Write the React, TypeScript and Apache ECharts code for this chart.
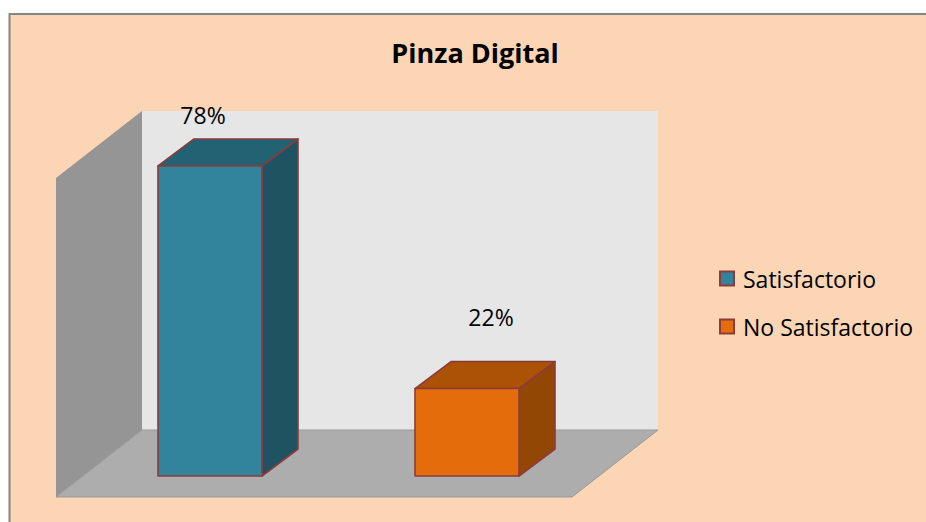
import React, { useEffect, useRef } from "react";
import * as echarts from "echarts";

const categories = ["Satisfactorio", "No Satisfactorio"];
const seriesNames = ["Satisfactorio", "No Satisfactorio"];
const values = [78, 22];
const labels = ["78%", "22%"];
const frontColors = ["#31849b", "#e46c0a"];
const topColors = ["#236273", "#ab5206"];
const sideColors = ["#1f5361", "#934704"];
const labelNudges = [[-7, -51], [24, -72]];

const FONT = "'Open Sans', Lato, sans-serif";
const EDGE = "#8c3b3c";
const DEPTH_X = 36;
const DEPTH_Y = -27;
const BAR_W = 104;

function barRenderer(index: number) {
  return (params: any, api: any) => {
    const [xc, yTop] = api.coord([api.value(0), api.value(1)]);
    const [, yBase] = api.coord([api.value(0), 0]);
    const l = xc - BAR_W / 2;
    const r = xc + BAR_W / 2;
    const shape = (points: number[][], fill: string) => ({
      type: "polygon",
      shape: { points },
      style: { fill, stroke: EDGE, lineWidth: 1.6, lineJoin: "round" },
    });
    return {
      type: "group",
      children: [
        shape(
          [[r, yTop], [r + DEPTH_X, yTop + DEPTH_Y], [r + DEPTH_X, yBase + DEPTH_Y], [r, yBase]],
          sideColors[index]
        ),
        shape(
          [[l, yTop], [l + DEPTH_X, yTop + DEPTH_Y], [r + DEPTH_X, yTop + DEPTH_Y], [r, yTop]],
          topColors[index]
        ),
        shape([[l, yTop], [r, yTop], [r, yBase], [l, yBase]], frontColors[index]),
        {
          type: "text",
          x: xc + labelNudges[index][0],
          y: yTop + labelNudges[index][1],
          style: {
            text: labels[index],
            fill: "#000",
            font: `23px ${FONT}`,
            align: "center",
            verticalAlign: "middle",
          },
        },
      ],
    };
  };
}

export default function App() {
  const ref = useRef<HTMLDivElement>(null);
  useEffect(() => {
    document.body.style.margin = "0";
    document.body.style.background = "#fff";
    const chart = echarts.init(ref.current!, undefined, { renderer: "svg" });
    chart.setOption({
      animation: false,
      backgroundColor: "#ffffff",
      title: {
        text: "Pinza Digital",
        left: 470,
        top: 34,
        textAlign: "center",
        textStyle: { fontFamily: FONT, fontSize: 27, fontWeight: "bold", color: "#000" },
      },
      legend: {
        data: seriesNames,
        orient: "vertical",
        left: 714,
        top: 262,
        icon: "rect",
        itemWidth: 14,
        itemHeight: 14,
        itemGap: 25,
        textStyle: { fontFamily: FONT, fontSize: 23, color: "#000", padding: [0, 0, 0, 4] },
        itemStyle: { borderColor: EDGE, borderWidth: 2 },
      },
      grid: { left: 81.5, width: 514, top: 158, height: 318 },
      xAxis: { type: "category", data: categories, show: false },
      yAxis: { type: "value", min: 0, max: 80, show: false },
      graphic: [
        {
          type: "rect",
          z: -10,
          shape: { x: 9.5, y: 14, width: 930, height: 520 },
          style: { fill: "#fcd5b5", stroke: "#868686", lineWidth: 2 },
        },
        {
          type: "polygon",
          z: -9,
          shape: { points: [[142, 111], [658, 111], [658, 430], [142, 430]] },
          style: { fill: "#e6e6e6" },
        },
        {
          type: "polygon",
          z: -9,
          shape: { points: [[56, 178], [142, 111], [142, 430], [56, 497]] },
          style: { fill: "#959595" },
        },
        {
          type: "polygon",
          z: -9,
          shape: { points: [[142, 430], [658, 430], [572, 497], [56, 497]] },
          style: { fill: "#adadad", stroke: "#9a9a9a", lineWidth: 1 },
        },
      ],
      series: seriesNames.map((name, i) => ({
        name,
        type: "custom",
        coordinateSystem: "cartesian2d",
        itemStyle: { color: frontColors[i] },
        renderItem: barRenderer(i),
        encode: { x: 0, y: 1 },
        data: [[categories[i], values[i]]],
      })),
    });
    return () => chart.dispose();
  }, []);
  return <div ref={ref} style={{ width: 926, height: 522 }} />;
}
